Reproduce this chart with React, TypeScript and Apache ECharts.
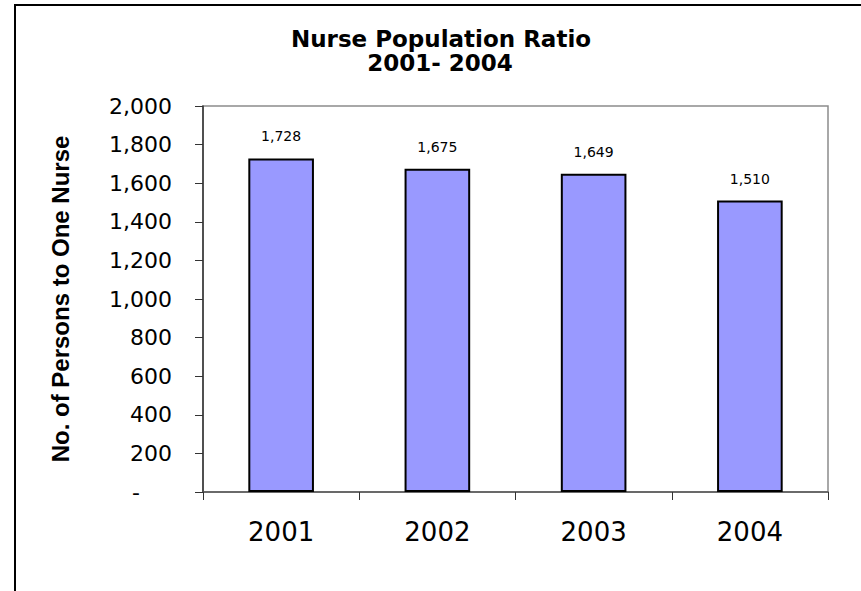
import React, { useEffect, useRef } from "react";
import * as echarts from "echarts";

const categories = ["2001", "2002", "2003", "2004"];
const ratioValues = [1728, 1675, 1649, 1510];
const titleLines = ["Nurse Population Ratio", "2001- 2004"];
const yAxisName = "No. of Persons to One Nurse";
const yMin = 0;
const yMax = 2000;
const yInterval = 200;

const fmt = (v: number) => v.toLocaleString("en-US");

const titleStyle = {
  fontFamily: "DejaVu Sans",
  fontWeight: "bold",
  fontSize: 23,
  lineHeight: 23,
  color: "#000",
};

export default function App() {
  const ref = useRef<HTMLDivElement>(null);
  useEffect(() => {
    if (!ref.current) return;
    const chart = echarts.init(ref.current, undefined, { renderer: "svg" });
    chart.setOption({
      animation: false,
      backgroundColor: "#ffffff",
      title: [
        {
          text: titleLines[0],
          left: 441,
          top: 27,
          textAlign: "center",
          padding: 0,
          textStyle: titleStyle,
        },
        {
          text: titleLines[1],
          left: 440,
          top: 51,
          textAlign: "center",
          padding: 0,
          textStyle: titleStyle,
        },
      ],
      graphic: [
        {
          type: "rect",
          shape: { x: 15, y: 5, width: 1000, height: 800 },
          style: { fill: "none", stroke: "#000", lineWidth: 2 },
          silent: true,
        },
      ],
      grid: {
        left: 203,
        top: 106,
        right: 33,
        bottom: 99,
        show: true,
        borderColor: "#8c8c8c",
        borderWidth: 1.5,
        backgroundColor: "transparent",
      },
      xAxis: {
        type: "category",
        data: categories,
        boundaryGap: true,
        axisLine: { show: true, lineStyle: { color: "#555", width: 1.5 } },
        axisTick: { show: true, length: 8, inside: false, alignWithLabel: false, lineStyle: { color: "#333", width: 1 } },
        axisLabel: {
          margin: 27,
          fontFamily: "DejaVu Sans",
          fontSize: 26,
          color: "#000",
        },
        splitLine: { show: false },
      },
      yAxis: {
        type: "value",
        min: yMin,
        max: yMax,
        interval: yInterval,
        name: yAxisName,
        nameLocation: "middle",
        nameRotate: 90,
        nameGap: 131,
        nameTextStyle: {
          fontFamily: "Liberation Sans, Arial",
          fontWeight: "bold",
          fontSize: 24,
          color: "#000",
        },
        axisLine: { show: true, lineStyle: { color: "#333", width: 1.5 } },
        axisTick: { show: true, length: 8, inside: false, lineStyle: { color: "#333", width: 1 } },
        axisLabel: {
          margin: 31,
          fontFamily: "DejaVu Sans",
          fontSize: 22,
          color: "#000",
          formatter: (v: number) => (v === 0 ? "{d|-}" : fmt(v)),
          rich: {
            d: {
              fontFamily: "DejaVu Sans",
              fontSize: 22,
              color: "#000",
              padding: [0, 32, 0, 0],
            },
          },
        },
        splitLine: { show: false },
      },
      series: [
        {
          type: "bar",
          data: ratioValues,
          barWidth: "42%",
          itemStyle: { color: "#9999FF", borderColor: "#000", borderWidth: 2 },
          label: {
            show: true,
            position: "top",
            distance: 15,
            fontFamily: "DejaVu Sans",
            fontSize: 14,
            color: "#000",
            formatter: (p: any) => fmt(p.value),
          },
        },
      ],
    });
    return () => chart.dispose();
  }, []);
  return (
    <div
      ref={ref}
      style={{ position: "fixed", left: 0, top: 0, width: 861, height: 591, background: "#fff" }}
    />
  );
}
